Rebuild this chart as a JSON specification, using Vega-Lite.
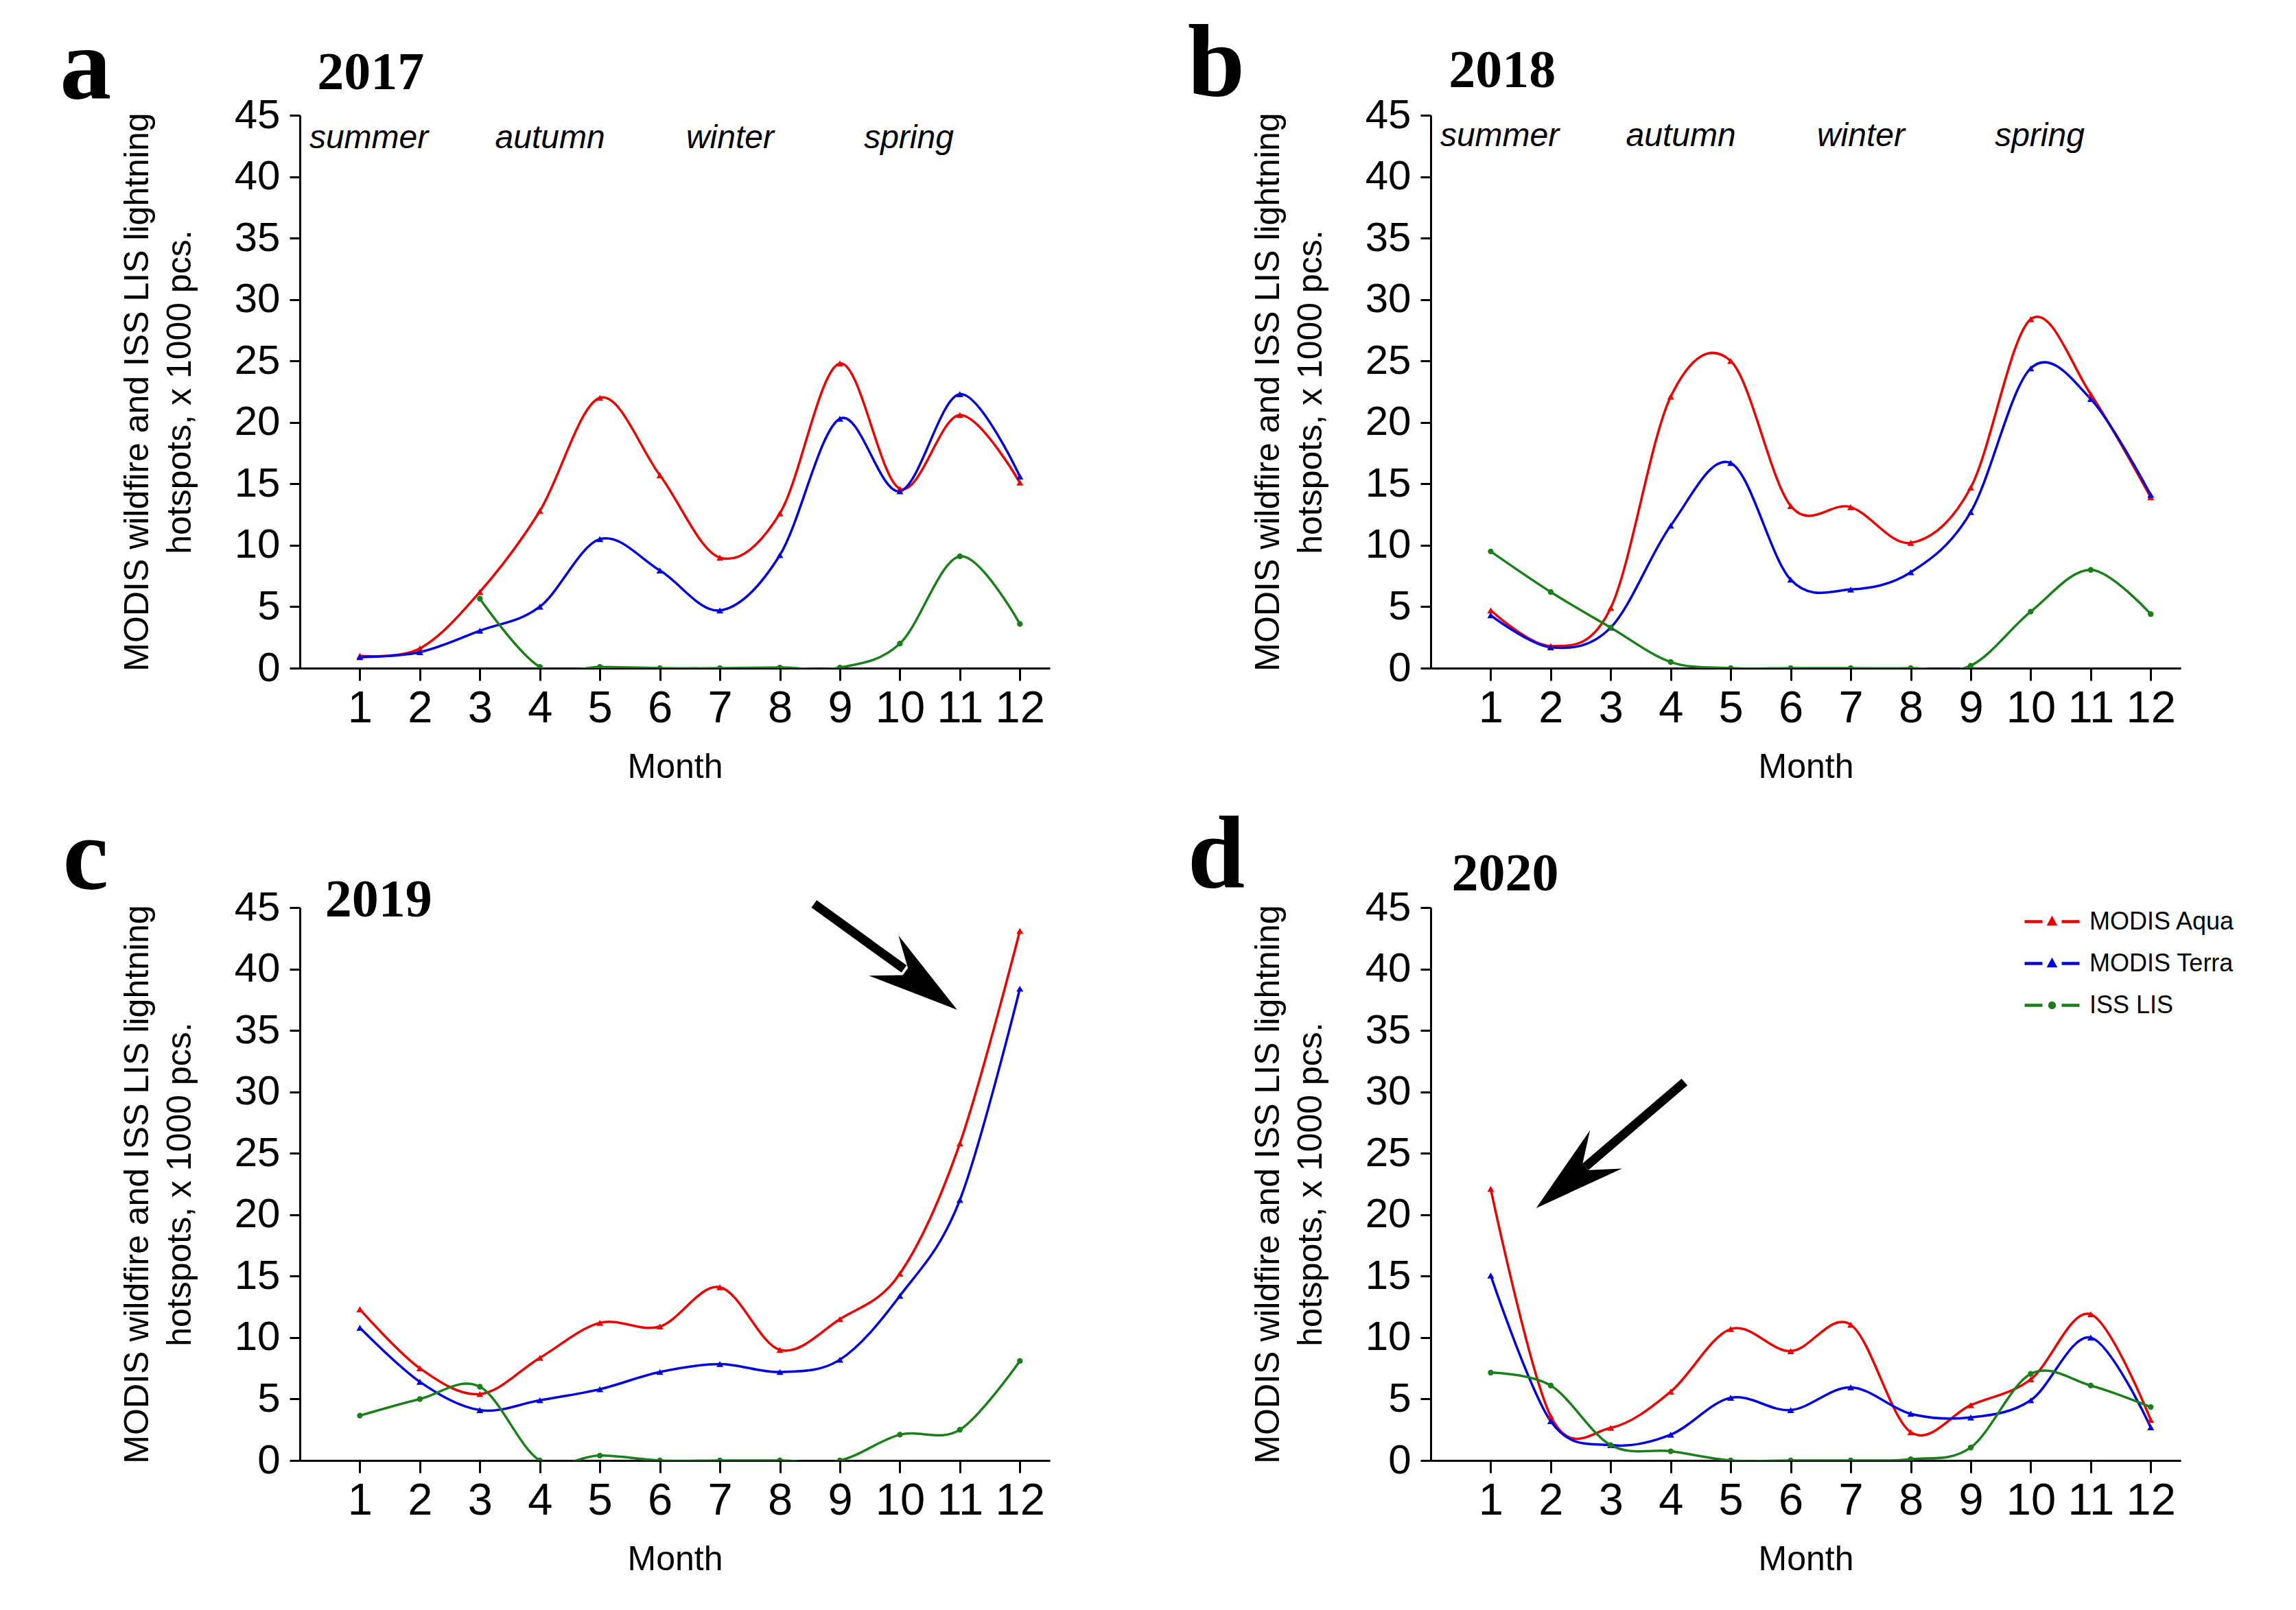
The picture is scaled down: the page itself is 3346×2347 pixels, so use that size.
{
  "$schema": "https://vega.github.io/schema/vega-lite/v6.json",
  "background": "white",
  "padding": {"left": 87, "top": 20, "right": 10, "bottom": 10},
  "datasets": {
    "hotspots": [
      {"year": 2017, "series": "MODIS Aqua", "month": 1, "value": 1.0},
      {"year": 2017, "series": "MODIS Aqua", "month": 2, "value": 1.6},
      {"year": 2017, "series": "MODIS Aqua", "month": 3, "value": 6.2},
      {"year": 2017, "series": "MODIS Aqua", "month": 4, "value": 12.8},
      {"year": 2017, "series": "MODIS Aqua", "month": 5, "value": 22.0},
      {"year": 2017, "series": "MODIS Aqua", "month": 6, "value": 15.7},
      {"year": 2017, "series": "MODIS Aqua", "month": 7, "value": 9.0},
      {"year": 2017, "series": "MODIS Aqua", "month": 8, "value": 12.6},
      {"year": 2017, "series": "MODIS Aqua", "month": 9, "value": 24.8},
      {"year": 2017, "series": "MODIS Aqua", "month": 10, "value": 14.6},
      {"year": 2017, "series": "MODIS Aqua", "month": 11, "value": 20.6},
      {"year": 2017, "series": "MODIS Aqua", "month": 12, "value": 15.1},
      {"year": 2017, "series": "MODIS Terra", "month": 1, "value": 0.9},
      {"year": 2017, "series": "MODIS Terra", "month": 2, "value": 1.3},
      {"year": 2017, "series": "MODIS Terra", "month": 3, "value": 3.05},
      {"year": 2017, "series": "MODIS Terra", "month": 4, "value": 5.0},
      {"year": 2017, "series": "MODIS Terra", "month": 5, "value": 10.5},
      {"year": 2017, "series": "MODIS Terra", "month": 6, "value": 7.95},
      {"year": 2017, "series": "MODIS Terra", "month": 7, "value": 4.7},
      {"year": 2017, "series": "MODIS Terra", "month": 8, "value": 9.2},
      {"year": 2017, "series": "MODIS Terra", "month": 9, "value": 20.3},
      {"year": 2017, "series": "MODIS Terra", "month": 10, "value": 14.4},
      {"year": 2017, "series": "MODIS Terra", "month": 11, "value": 22.3},
      {"year": 2017, "series": "MODIS Terra", "month": 12, "value": 15.6},
      {"year": 2017, "series": "ISS LIS", "month": 3, "value": 5.65},
      {"year": 2017, "series": "ISS LIS", "month": 4, "value": 0.1},
      {"year": 2017, "series": "ISS LIS", "month": 5, "value": 0.1},
      {"year": 2017, "series": "ISS LIS", "month": 6, "value": 0.0},
      {"year": 2017, "series": "ISS LIS", "month": 7, "value": 0.0},
      {"year": 2017, "series": "ISS LIS", "month": 8, "value": 0.05},
      {"year": 2017, "series": "ISS LIS", "month": 9, "value": 0.05},
      {"year": 2017, "series": "ISS LIS", "month": 10, "value": 2.0},
      {"year": 2017, "series": "ISS LIS", "month": 11, "value": 9.1},
      {"year": 2017, "series": "ISS LIS", "month": 12, "value": 3.6},
      {"year": 2018, "series": "MODIS Aqua", "month": 1, "value": 4.7},
      {"year": 2018, "series": "MODIS Aqua", "month": 2, "value": 1.8},
      {"year": 2018, "series": "MODIS Aqua", "month": 3, "value": 4.9},
      {"year": 2018, "series": "MODIS Aqua", "month": 4, "value": 22.1},
      {"year": 2018, "series": "MODIS Aqua", "month": 5, "value": 25.0},
      {"year": 2018, "series": "MODIS Aqua", "month": 6, "value": 13.2},
      {"year": 2018, "series": "MODIS Aqua", "month": 7, "value": 13.1},
      {"year": 2018, "series": "MODIS Aqua", "month": 8, "value": 10.2},
      {"year": 2018, "series": "MODIS Aqua", "month": 9, "value": 14.7},
      {"year": 2018, "series": "MODIS Aqua", "month": 10, "value": 28.4},
      {"year": 2018, "series": "MODIS Aqua", "month": 11, "value": 22.3},
      {"year": 2018, "series": "MODIS Aqua", "month": 12, "value": 13.9},
      {"year": 2018, "series": "MODIS Terra", "month": 1, "value": 4.3},
      {"year": 2018, "series": "MODIS Terra", "month": 2, "value": 1.7},
      {"year": 2018, "series": "MODIS Terra", "month": 3, "value": 3.3},
      {"year": 2018, "series": "MODIS Terra", "month": 4, "value": 11.6},
      {"year": 2018, "series": "MODIS Terra", "month": 5, "value": 16.7},
      {"year": 2018, "series": "MODIS Terra", "month": 6, "value": 7.2},
      {"year": 2018, "series": "MODIS Terra", "month": 7, "value": 6.4},
      {"year": 2018, "series": "MODIS Terra", "month": 8, "value": 7.8},
      {"year": 2018, "series": "MODIS Terra", "month": 9, "value": 12.7},
      {"year": 2018, "series": "MODIS Terra", "month": 10, "value": 24.4},
      {"year": 2018, "series": "MODIS Terra", "month": 11, "value": 21.9},
      {"year": 2018, "series": "MODIS Terra", "month": 12, "value": 14.1},
      {"year": 2018, "series": "ISS LIS", "month": 1, "value": 9.5},
      {"year": 2018, "series": "ISS LIS", "month": 2, "value": 6.2},
      {"year": 2018, "series": "ISS LIS", "month": 3, "value": 3.3},
      {"year": 2018, "series": "ISS LIS", "month": 4, "value": 0.5},
      {"year": 2018, "series": "ISS LIS", "month": 5, "value": 0.0},
      {"year": 2018, "series": "ISS LIS", "month": 6, "value": 0.0},
      {"year": 2018, "series": "ISS LIS", "month": 7, "value": 0.0},
      {"year": 2018, "series": "ISS LIS", "month": 8, "value": 0.0},
      {"year": 2018, "series": "ISS LIS", "month": 9, "value": 0.2},
      {"year": 2018, "series": "ISS LIS", "month": 10, "value": 4.6},
      {"year": 2018, "series": "ISS LIS", "month": 11, "value": 8.0},
      {"year": 2018, "series": "ISS LIS", "month": 12, "value": 4.4},
      {"year": 2019, "series": "MODIS Aqua", "month": 1, "value": 12.3},
      {"year": 2019, "series": "MODIS Aqua", "month": 2, "value": 7.5},
      {"year": 2019, "series": "MODIS Aqua", "month": 3, "value": 5.4},
      {"year": 2019, "series": "MODIS Aqua", "month": 4, "value": 8.35},
      {"year": 2019, "series": "MODIS Aqua", "month": 5, "value": 11.2},
      {"year": 2019, "series": "MODIS Aqua", "month": 6, "value": 10.9},
      {"year": 2019, "series": "MODIS Aqua", "month": 7, "value": 14.1},
      {"year": 2019, "series": "MODIS Aqua", "month": 8, "value": 9.0},
      {"year": 2019, "series": "MODIS Aqua", "month": 9, "value": 11.5},
      {"year": 2019, "series": "MODIS Aqua", "month": 10, "value": 15.2},
      {"year": 2019, "series": "MODIS Aqua", "month": 11, "value": 25.8},
      {"year": 2019, "series": "MODIS Aqua", "month": 12, "value": 43.1},
      {"year": 2019, "series": "MODIS Terra", "month": 1, "value": 10.8},
      {"year": 2019, "series": "MODIS Terra", "month": 2, "value": 6.4},
      {"year": 2019, "series": "MODIS Terra", "month": 3, "value": 4.1},
      {"year": 2019, "series": "MODIS Terra", "month": 4, "value": 4.9},
      {"year": 2019, "series": "MODIS Terra", "month": 5, "value": 5.8},
      {"year": 2019, "series": "MODIS Terra", "month": 6, "value": 7.2},
      {"year": 2019, "series": "MODIS Terra", "month": 7, "value": 7.85},
      {"year": 2019, "series": "MODIS Terra", "month": 8, "value": 7.2},
      {"year": 2019, "series": "MODIS Terra", "month": 9, "value": 8.2},
      {"year": 2019, "series": "MODIS Terra", "month": 10, "value": 13.4},
      {"year": 2019, "series": "MODIS Terra", "month": 11, "value": 21.2},
      {"year": 2019, "series": "MODIS Terra", "month": 12, "value": 38.4},
      {"year": 2019, "series": "ISS LIS", "month": 1, "value": 3.65},
      {"year": 2019, "series": "ISS LIS", "month": 2, "value": 5.0},
      {"year": 2019, "series": "ISS LIS", "month": 3, "value": 6.0},
      {"year": 2019, "series": "ISS LIS", "month": 4, "value": 0.0},
      {"year": 2019, "series": "ISS LIS", "month": 5, "value": 0.4},
      {"year": 2019, "series": "ISS LIS", "month": 6, "value": 0.0},
      {"year": 2019, "series": "ISS LIS", "month": 7, "value": 0.0},
      {"year": 2019, "series": "ISS LIS", "month": 8, "value": 0.0},
      {"year": 2019, "series": "ISS LIS", "month": 9, "value": 0.0},
      {"year": 2019, "series": "ISS LIS", "month": 10, "value": 2.1},
      {"year": 2019, "series": "ISS LIS", "month": 11, "value": 2.5},
      {"year": 2019, "series": "ISS LIS", "month": 12, "value": 8.1},
      {"year": 2020, "series": "MODIS Aqua", "month": 1, "value": 22.1},
      {"year": 2020, "series": "MODIS Aqua", "month": 2, "value": 3.6},
      {"year": 2020, "series": "MODIS Aqua", "month": 3, "value": 2.65},
      {"year": 2020, "series": "MODIS Aqua", "month": 4, "value": 5.6},
      {"year": 2020, "series": "MODIS Aqua", "month": 5, "value": 10.7},
      {"year": 2020, "series": "MODIS Aqua", "month": 6, "value": 8.9},
      {"year": 2020, "series": "MODIS Aqua", "month": 7, "value": 11.05},
      {"year": 2020, "series": "MODIS Aqua", "month": 8, "value": 2.3},
      {"year": 2020, "series": "MODIS Aqua", "month": 9, "value": 4.5},
      {"year": 2020, "series": "MODIS Aqua", "month": 10, "value": 6.6},
      {"year": 2020, "series": "MODIS Aqua", "month": 11, "value": 11.9},
      {"year": 2020, "series": "MODIS Aqua", "month": 12, "value": 3.3},
      {"year": 2020, "series": "MODIS Terra", "month": 1, "value": 15.05},
      {"year": 2020, "series": "MODIS Terra", "month": 2, "value": 3.2},
      {"year": 2020, "series": "MODIS Terra", "month": 3, "value": 1.25},
      {"year": 2020, "series": "MODIS Terra", "month": 4, "value": 2.1},
      {"year": 2020, "series": "MODIS Terra", "month": 5, "value": 5.1},
      {"year": 2020, "series": "MODIS Terra", "month": 6, "value": 4.1},
      {"year": 2020, "series": "MODIS Terra", "month": 7, "value": 5.95},
      {"year": 2020, "series": "MODIS Terra", "month": 8, "value": 3.8},
      {"year": 2020, "series": "MODIS Terra", "month": 9, "value": 3.5},
      {"year": 2020, "series": "MODIS Terra", "month": 10, "value": 4.9},
      {"year": 2020, "series": "MODIS Terra", "month": 11, "value": 10.0},
      {"year": 2020, "series": "MODIS Terra", "month": 12, "value": 2.7},
      {"year": 2020, "series": "ISS LIS", "month": 1, "value": 7.15},
      {"year": 2020, "series": "ISS LIS", "month": 2, "value": 6.1},
      {"year": 2020, "series": "ISS LIS", "month": 3, "value": 1.25},
      {"year": 2020, "series": "ISS LIS", "month": 4, "value": 0.75},
      {"year": 2020, "series": "ISS LIS", "month": 5, "value": 0.0},
      {"year": 2020, "series": "ISS LIS", "month": 6, "value": 0.0},
      {"year": 2020, "series": "ISS LIS", "month": 7, "value": 0.0},
      {"year": 2020, "series": "ISS LIS", "month": 8, "value": 0.1},
      {"year": 2020, "series": "ISS LIS", "month": 9, "value": 1.05},
      {"year": 2020, "series": "ISS LIS", "month": 10, "value": 7.05},
      {"year": 2020, "series": "ISS LIS", "month": 11, "value": 6.1},
      {"year": 2020, "series": "ISS LIS", "month": 12, "value": 4.35}
    ]
  },
  "columns": 2,
  "spacing": {"row": 349, "column": 555},
  "bounds": "flush",
  "resolve": {"scale": {"color": "independent"}, "legend": {"color": "independent"}},
  "concat": [
    {
      "width": 1093, "height": 806,
      "layer": [
        {"data": {"name": "hotspots"}, "transform": [{"filter": "datum.year == 2017"}],
         "mark": {"type": "line", "interpolate": "cardinal", "strokeWidth": 3.5, "clip": true},
         "encoding": {
           "x": {"field": "month", "type": "quantitative", "scale": {"domain": [0, 12.5], "nice": false, "zero": false}, "axis": {"values": [1,2,3,4,5,6,7,8,9,10,11,12], "format": "d", "title": "Month"}},
           "y": {"field": "value", "type": "quantitative", "scale": {"domain": [0, 45], "nice": false}, "axis": {"values": [0,5,10,15,20,25,30,35,40,45], "title": ["MODIS wildfire and ISS LIS lightning", "hotspots, x 1000 pcs."]}},
           "color": {"field": "series", "type": "nominal", "scale": {"domain": ["MODIS Aqua", "MODIS Terra", "ISS LIS"], "range": ["#ee0000", "#0000dd", "#1a7f1a"]}, "legend": null}
         }},
        {"data": {"name": "hotspots"}, "transform": [{"filter": "datum.year == 2017 && datum.series != 'ISS LIS'"}],
         "mark": {"type": "point", "shape": "triangle-up", "filled": true, "opacity": 1, "size": 100, "clip": true},
         "encoding": {"x": {"field": "month", "type": "quantitative"}, "y": {"field": "value", "type": "quantitative"}, "color": {"field": "series", "type": "nominal", "legend": null}}},
        {"data": {"name": "hotspots"}, "transform": [{"filter": "datum.year == 2017 && datum.series == 'ISS LIS'"}],
         "mark": {"type": "point", "shape": "circle", "filled": true, "opacity": 1, "size": 70, "clip": true},
         "encoding": {"x": {"field": "month", "type": "quantitative"}, "y": {"field": "value", "type": "quantitative"}, "color": {"field": "series", "type": "nominal", "legend": null}}},
        {"data": {"values": [{}]}, "mark": {"type": "text", "text": "a", "font": "Liberation Serif", "fontWeight": "bold", "fontSize": 150, "align": "left", "baseline": "alphabetic", "color": "black"},
         "encoding": {"x": {"datum": -4.0}, "y": {"datum": 46.4}}},
        {"data": {"values": [{}]}, "mark": {"type": "text", "text": "2017", "font": "Liberation Serif", "fontWeight": "bold", "fontSize": 78, "align": "left", "baseline": "alphabetic", "color": "black"},
         "encoding": {"x": {"datum": 0.29}, "y": {"datum": 47.1}}},
        {"data": {"values": [{}]}, "mark": {"type": "text", "text": "summer", "font": "Liberation Sans", "fontStyle": "italic", "fontSize": 48, "align": "center", "baseline": "alphabetic", "color": "black"},
         "encoding": {"x": {"datum": 1.15}, "y": {"datum": 42.3}}},
        {"data": {"values": [{}]}, "mark": {"type": "text", "text": "autumn", "font": "Liberation Sans", "fontStyle": "italic", "fontSize": 48, "align": "center", "baseline": "alphabetic", "color": "black"},
         "encoding": {"x": {"datum": 4.17}, "y": {"datum": 42.3}}},
        {"data": {"values": [{}]}, "mark": {"type": "text", "text": "winter", "font": "Liberation Sans", "fontStyle": "italic", "fontSize": 48, "align": "center", "baseline": "alphabetic", "color": "black"},
         "encoding": {"x": {"datum": 7.17}, "y": {"datum": 42.3}}},
        {"data": {"values": [{}]}, "mark": {"type": "text", "text": "spring", "font": "Liberation Sans", "fontStyle": "italic", "fontSize": 48, "align": "center", "baseline": "alphabetic", "color": "black"},
         "encoding": {"x": {"datum": 10.15}, "y": {"datum": 42.3}}}
      ]
    },
    {
      "width": 1093, "height": 806,
      "layer": [
        {"data": {"name": "hotspots"}, "transform": [{"filter": "datum.year == 2018"}],
         "mark": {"type": "line", "interpolate": "cardinal", "strokeWidth": 3.5, "clip": true},
         "encoding": {
           "x": {"field": "month", "type": "quantitative", "scale": {"domain": [0, 12.5], "nice": false, "zero": false}, "axis": {"values": [1,2,3,4,5,6,7,8,9,10,11,12], "format": "d", "title": "Month"}},
           "y": {"field": "value", "type": "quantitative", "scale": {"domain": [0, 45], "nice": false}, "axis": {"values": [0,5,10,15,20,25,30,35,40,45], "title": ["MODIS wildfire and ISS LIS lightning", "hotspots, x 1000 pcs."]}},
           "color": {"field": "series", "type": "nominal", "scale": {"domain": ["MODIS Aqua", "MODIS Terra", "ISS LIS"], "range": ["#ee0000", "#0000dd", "#1a7f1a"]}, "legend": null}
         }},
        {"data": {"name": "hotspots"}, "transform": [{"filter": "datum.year == 2018 && datum.series != 'ISS LIS'"}],
         "mark": {"type": "point", "shape": "triangle-up", "filled": true, "opacity": 1, "size": 100, "clip": true},
         "encoding": {"x": {"field": "month", "type": "quantitative"}, "y": {"field": "value", "type": "quantitative"}, "color": {"field": "series", "type": "nominal", "legend": null}}},
        {"data": {"name": "hotspots"}, "transform": [{"filter": "datum.year == 2018 && datum.series == 'ISS LIS'"}],
         "mark": {"type": "point", "shape": "circle", "filled": true, "opacity": 1, "size": 70, "clip": true},
         "encoding": {"x": {"field": "month", "type": "quantitative"}, "y": {"field": "value", "type": "quantitative"}, "color": {"field": "series", "type": "nominal", "legend": null}}},
        {"data": {"values": [{}]}, "mark": {"type": "text", "text": "b", "font": "Liberation Serif", "fontWeight": "bold", "fontSize": 150, "align": "left", "baseline": "alphabetic", "color": "black"},
         "encoding": {"x": {"datum": -4.05}, "y": {"datum": 46.55}}},
        {"data": {"values": [{}]}, "mark": {"type": "text", "text": "2018", "font": "Liberation Serif", "fontWeight": "bold", "fontSize": 78, "align": "left", "baseline": "alphabetic", "color": "black"},
         "encoding": {"x": {"datum": 0.3}, "y": {"datum": 47.3}}},
        {"data": {"values": [{}]}, "mark": {"type": "text", "text": "summer", "font": "Liberation Sans", "fontStyle": "italic", "fontSize": 48, "align": "center", "baseline": "alphabetic", "color": "black"},
         "encoding": {"x": {"datum": 1.15}, "y": {"datum": 42.5}}},
        {"data": {"values": [{}]}, "mark": {"type": "text", "text": "autumn", "font": "Liberation Sans", "fontStyle": "italic", "fontSize": 48, "align": "center", "baseline": "alphabetic", "color": "black"},
         "encoding": {"x": {"datum": 4.17}, "y": {"datum": 42.5}}},
        {"data": {"values": [{}]}, "mark": {"type": "text", "text": "winter", "font": "Liberation Sans", "fontStyle": "italic", "fontSize": 48, "align": "center", "baseline": "alphabetic", "color": "black"},
         "encoding": {"x": {"datum": 7.17}, "y": {"datum": 42.5}}},
        {"data": {"values": [{}]}, "mark": {"type": "text", "text": "spring", "font": "Liberation Sans", "fontStyle": "italic", "fontSize": 48, "align": "center", "baseline": "alphabetic", "color": "black"},
         "encoding": {"x": {"datum": 10.15}, "y": {"datum": 42.5}}}
      ]
    },
    {
      "width": 1093, "height": 806,
      "layer": [
        {"data": {"name": "hotspots"}, "transform": [{"filter": "datum.year == 2019"}],
         "mark": {"type": "line", "interpolate": "cardinal", "strokeWidth": 3.5, "clip": true},
         "encoding": {
           "x": {"field": "month", "type": "quantitative", "scale": {"domain": [0, 12.5], "nice": false, "zero": false}, "axis": {"values": [1,2,3,4,5,6,7,8,9,10,11,12], "format": "d", "title": "Month"}},
           "y": {"field": "value", "type": "quantitative", "scale": {"domain": [0, 45], "nice": false}, "axis": {"values": [0,5,10,15,20,25,30,35,40,45], "title": ["MODIS wildfire and ISS LIS lightning", "hotspots, x 1000 pcs."]}},
           "color": {"field": "series", "type": "nominal", "scale": {"domain": ["MODIS Aqua", "MODIS Terra", "ISS LIS"], "range": ["#ee0000", "#0000dd", "#1a7f1a"]}, "legend": null}
         }},
        {"data": {"name": "hotspots"}, "transform": [{"filter": "datum.year == 2019 && datum.series != 'ISS LIS'"}],
         "mark": {"type": "point", "shape": "triangle-up", "filled": true, "opacity": 1, "size": 100, "clip": true},
         "encoding": {"x": {"field": "month", "type": "quantitative"}, "y": {"field": "value", "type": "quantitative"}, "color": {"field": "series", "type": "nominal", "legend": null}}},
        {"data": {"name": "hotspots"}, "transform": [{"filter": "datum.year == 2019 && datum.series == 'ISS LIS'"}],
         "mark": {"type": "point", "shape": "circle", "filled": true, "opacity": 1, "size": 70, "clip": true},
         "encoding": {"x": {"field": "month", "type": "quantitative"}, "y": {"field": "value", "type": "quantitative"}, "color": {"field": "series", "type": "nominal", "legend": null}}},
        {"data": {"values": [{}]}, "mark": {"type": "text", "text": "c", "font": "Liberation Serif", "fontWeight": "bold", "fontSize": 150, "align": "left", "baseline": "alphabetic", "color": "black"},
         "encoding": {"x": {"datum": -3.95}, "y": {"datum": 46.5}}},
        {"data": {"values": [{}]}, "mark": {"type": "text", "text": "2019", "font": "Liberation Serif", "fontWeight": "bold", "fontSize": 78, "align": "left", "baseline": "alphabetic", "color": "black"},
         "encoding": {"x": {"datum": 0.42}, "y": {"datum": 44.3}}},
        {"data": {"values": [{}]}, "mark": {"type": "rule", "strokeWidth": 13, "color": "black", "strokeCap": "butt"},
         "encoding": {"x": {"datum": 8.57}, "y": {"datum": 45.3}, "x2": {"datum": 10.07}, "y2": {"datum": 40.0}}},
        {"data": {"values": [{}]}, "mark": {"type": "point", "shape": "M0,-1L0.52,0.9L0.09,0.34L-0.09,0.34L-0.52,0.9Z", "size": 19600, "angle": 126.4, "filled": true, "color": "black", "opacity": 1},
         "encoding": {"x": {"datum": 10.31}, "y": {"datum": 39.0}}}
      ]
    },
    {
      "width": 1093, "height": 806,
      "layer": [
        {"data": {"name": "hotspots"}, "transform": [{"filter": "datum.year == 2020"}],
         "mark": {"type": "line", "interpolate": "cardinal", "strokeWidth": 3.5, "clip": true},
         "encoding": {
           "x": {"field": "month", "type": "quantitative", "scale": {"domain": [0, 12.5], "nice": false, "zero": false}, "axis": {"values": [1,2,3,4,5,6,7,8,9,10,11,12], "format": "d", "title": "Month"}},
           "y": {"field": "value", "type": "quantitative", "scale": {"domain": [0, 45], "nice": false}, "axis": {"values": [0,5,10,15,20,25,30,35,40,45], "title": ["MODIS wildfire and ISS LIS lightning", "hotspots, x 1000 pcs."]}},
           "color": {"field": "series", "type": "nominal", "scale": {"domain": ["MODIS Aqua", "MODIS Terra", "ISS LIS"], "range": ["#ee0000", "#0000dd", "#1a7f1a"]},
             "legend": {"orient": "none", "legendX": 883, "legendY": -2, "title": null, "padding": 0,
               "symbolType": "M-2,0H-0.7M0.7,0H2M-0.2,0.17L0,-0.2L0.2,0.17Z", "symbolSize": 1600, "symbolStrokeWidth": 4.5,
               "labelFont": "Liberation Sans", "labelFontSize": 36, "labelColor": "black", "labelOffset": 32, "rowPadding": 20, "labelLimit": 0,
               "encode": {"symbols": {"update": {
                 "shape": {"signal": "datum.value === 'ISS LIS' ? 'M-2,0H-0.7M0.7,0H2M-0.17,0A0.17,0.17 0 1,0 0.17,0A0.17,0.17 0 1,0 -0.17,0Z' : 'M-2,0H-0.7M0.7,0H2M-0.2,0.17L0,-0.2L0.2,0.17Z'"},
                 "fill": {"signal": "datum.value === 'MODIS Aqua' ? '#ee0000' : datum.value === 'MODIS Terra' ? '#0000dd' : '#1a7f1a'"},
                 "opacity": {"value": 1}
               }}}}}
         }},
        {"data": {"name": "hotspots"}, "transform": [{"filter": "datum.year == 2020 && datum.series != 'ISS LIS'"}],
         "mark": {"type": "point", "shape": "triangle-up", "filled": true, "opacity": 1, "size": 100, "clip": true},
         "encoding": {"x": {"field": "month", "type": "quantitative"}, "y": {"field": "value", "type": "quantitative"}, "color": {"field": "series", "type": "nominal", "legend": null}}},
        {"data": {"name": "hotspots"}, "transform": [{"filter": "datum.year == 2020 && datum.series == 'ISS LIS'"}],
         "mark": {"type": "point", "shape": "circle", "filled": true, "opacity": 1, "size": 70, "clip": true},
         "encoding": {"x": {"field": "month", "type": "quantitative"}, "y": {"field": "value", "type": "quantitative"}, "color": {"field": "series", "type": "nominal", "legend": null}}},
        {"data": {"values": [{}]}, "mark": {"type": "text", "text": "d", "font": "Liberation Serif", "fontWeight": "bold", "fontSize": 150, "align": "left", "baseline": "alphabetic", "color": "black"},
         "encoding": {"x": {"datum": -4.05}, "y": {"datum": 46.6}}},
        {"data": {"values": [{}]}, "mark": {"type": "text", "text": "2020", "font": "Liberation Serif", "fontWeight": "bold", "fontSize": 78, "align": "left", "baseline": "alphabetic", "color": "black"},
         "encoding": {"x": {"datum": 0.35}, "y": {"datum": 46.4}}},
        {"data": {"values": [{}]}, "mark": {"type": "rule", "strokeWidth": 13, "color": "black", "strokeCap": "butt"},
         "encoding": {"x": {"datum": 4.23}, "y": {"datum": 30.8}, "x2": {"datum": 2.58}, "y2": {"datum": 23.9}}},
        {"data": {"values": [{}]}, "mark": {"type": "point", "shape": "M0,-1L0.52,0.9L0.09,0.34L-0.09,0.34L-0.52,0.9Z", "size": 19600, "angle": 230, "filled": true, "color": "black", "opacity": 1},
         "encoding": {"x": {"datum": 2.37}, "y": {"datum": 23.05}}}
      ]
    }
  ],
  "config": {
    "view": {"stroke": null},
    "axis": {"grid": false, "domainColor": "black", "domainWidth": 3, "tickColor": "black", "tickWidth": 3, "labelColor": "black", "titleColor": "black", "labelFont": "Liberation Sans", "titleFont": "Liberation Sans", "titleFontWeight": "normal", "labelFlush": false, "labelOverlap": false},
    "axisX": {"tickSize": 18, "labelFontSize": 65, "labelPadding": 9, "titleFontSize": 50, "titlePadding": 28},
    "axisY": {"tickSize": 15, "labelFontSize": 60, "labelPadding": 14, "titleFontSize": 50, "titleLineHeight": 62, "titlePadding": 54}
  }
}
